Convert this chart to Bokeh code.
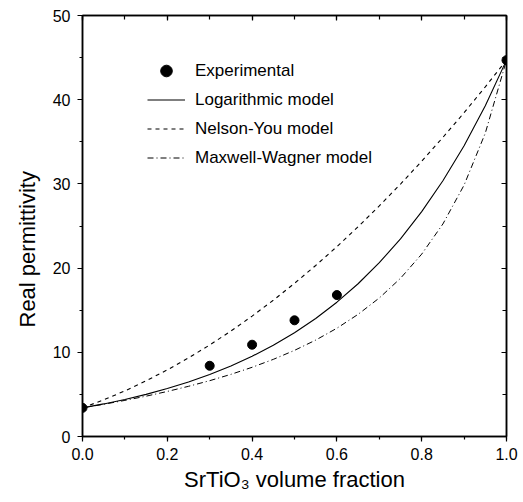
from bokeh.plotting import figure
from bokeh.models import (Range1d, LinearAxis, SingleIntervalTicker, Legend,
                          LegendItem, PrintfTickFormatter, Title, CustomLabelingPolicy)
from bokeh.embed import file_html
from bokeh.resources import INLINE

# ---- data ----
exp_x = [0.0, 0.3, 0.4, 0.5, 0.6, 1.0]
exp_y = [3.4, 8.4, 10.9, 13.8, 16.8, 44.7]

model_x = [0.0, 0.05, 0.1, 0.15, 0.2, 0.25, 0.3, 0.35, 0.4, 0.45, 0.5,
           0.55, 0.6, 0.65, 0.7, 0.75, 0.8, 0.85, 0.9, 0.95, 1.0]
log_y = [3.40, 3.87, 4.40, 5.00, 5.69, 6.47, 7.36, 8.38, 9.53, 10.84, 12.33,
         14.02, 15.95, 18.14, 20.64, 23.47, 26.70, 30.37, 34.54, 39.29, 44.70]
nelson_y = [3.40, 4.35, 5.42, 6.61, 7.91, 9.33, 10.87, 12.52, 14.30, 16.18, 18.19,
            20.31, 22.55, 24.91, 27.39, 29.98, 32.69, 35.52, 38.46, 41.53, 44.70]
mw_y = [3.40, 3.83, 4.29, 4.79, 5.35, 5.96, 6.63, 7.38, 8.22, 9.16, 10.23,
        11.45, 12.86, 14.51, 16.45, 18.79, 21.66, 25.24, 29.86, 36.03, 44.70]

x_tick_step = 0.2
y_tick_step = 10

labels = ["Experimental", "Logarithmic model", "Nelson-You model", "Maxwell-Wagner model"]
x_title = "SrTiO\u2083 volume fraction"
y_title = "Real permittivity"

FONT = "Liberation Sans"

p = figure(width=518, height=496, output_backend="svg", toolbar_location=None,
           x_range=Range1d(0, 1), y_range=Range1d(0, 50),
           x_axis_label=x_title)
p.min_border_left = 82
p.min_border_right = 12
p.min_border_top = 15
p.min_border_bottom = 60
p.background_fill_color = "white"
p.border_fill_color = "white"
p.outline_line_color = "black"
p.outline_line_width = 1.5
p.grid.visible = False

p.xaxis.ticker = SingleIntervalTicker(interval=x_tick_step, num_minor_ticks=2)
p.yaxis.ticker = SingleIntervalTicker(interval=y_tick_step, num_minor_ticks=2)
p.xaxis.formatter = PrintfTickFormatter(format="%.1f")

for ax in (p.xaxis[0], p.yaxis[0]):
    ax.axis_line_width = 1.5
    ax.major_tick_out = 5
    ax.major_tick_in = 0
    ax.minor_tick_out = 3
    ax.minor_tick_in = 0
    ax.major_tick_line_width = 1.2
    ax.minor_tick_line_width = 1.2
    ax.major_label_text_font = FONT
    ax.major_label_text_font_size = "16px"
    ax.major_label_text_color = "black"
    ax.axis_label_text_font = FONT
    ax.axis_label_text_font_size = "22px"
    ax.axis_label_text_font_style = "normal"
    ax.axis_label_text_color = "black"
p.xaxis.major_label_standoff = 6
p.xaxis.axis_label_standoff = 4
p.yaxis.major_label_standoff = 7

# y-axis title as a side title (shifted along the axis as in the reference)
p.add_layout(Title(text=y_title, align="left", offset=109, standoff=19,
                   text_font=FONT, text_font_size="22px", text_font_style="normal",
                   text_color="black"), "left")

# mirrored axes with inward ticks only (labels suppressed)
hide_code = "try { return new indices.constructor(indices.size) } catch (e) { return indices }"


def mirror_axis(step):
    return LinearAxis(ticker=SingleIntervalTicker(interval=step, num_minor_ticks=2),
                      major_label_text_font_size="0px", major_label_standoff=0,
                      major_label_policy=CustomLabelingPolicy(code=hide_code),
                      major_tick_in=5, major_tick_out=0, minor_tick_in=4, minor_tick_out=0,
                      axis_line_width=1.5, major_tick_line_width=1.2, minor_tick_line_width=1.2)


p.add_layout(mirror_axis(x_tick_step), "above")
p.add_layout(mirror_axis(y_tick_step), "right")

r_log = p.line(model_x, log_y, line_color="black", line_width=1.1)
r_nel = p.line(model_x, nelson_y, line_color="black", line_width=1.1, line_dash="4 4")
r_mw = p.line(model_x, mw_y, line_color="black", line_width=1.0, line_dash="6 3 1 3")
r_exp = p.scatter(exp_x, exp_y, size=9, marker="circle", fill_color="black", line_color="black")

legend = Legend(items=[LegendItem(label=labels[0], renderers=[r_exp]),
                       LegendItem(label=labels[1], renderers=[r_log]),
                       LegendItem(label=labels[2], renderers=[r_nel]),
                       LegendItem(label=labels[3], renderers=[r_mw])],
                location=(65, 264), orientation="vertical",
                border_line_color=None, background_fill_alpha=0,
                padding=0, margin=0, spacing=0,
                glyph_width=38, glyph_height=29, label_height=29,
                label_standoff=10, label_text_font=FONT, label_text_font_size="17px",
                label_text_color="black")
p.add_layout(legend, "center")

open("out.html", "w").write(file_html(p, INLINE))
